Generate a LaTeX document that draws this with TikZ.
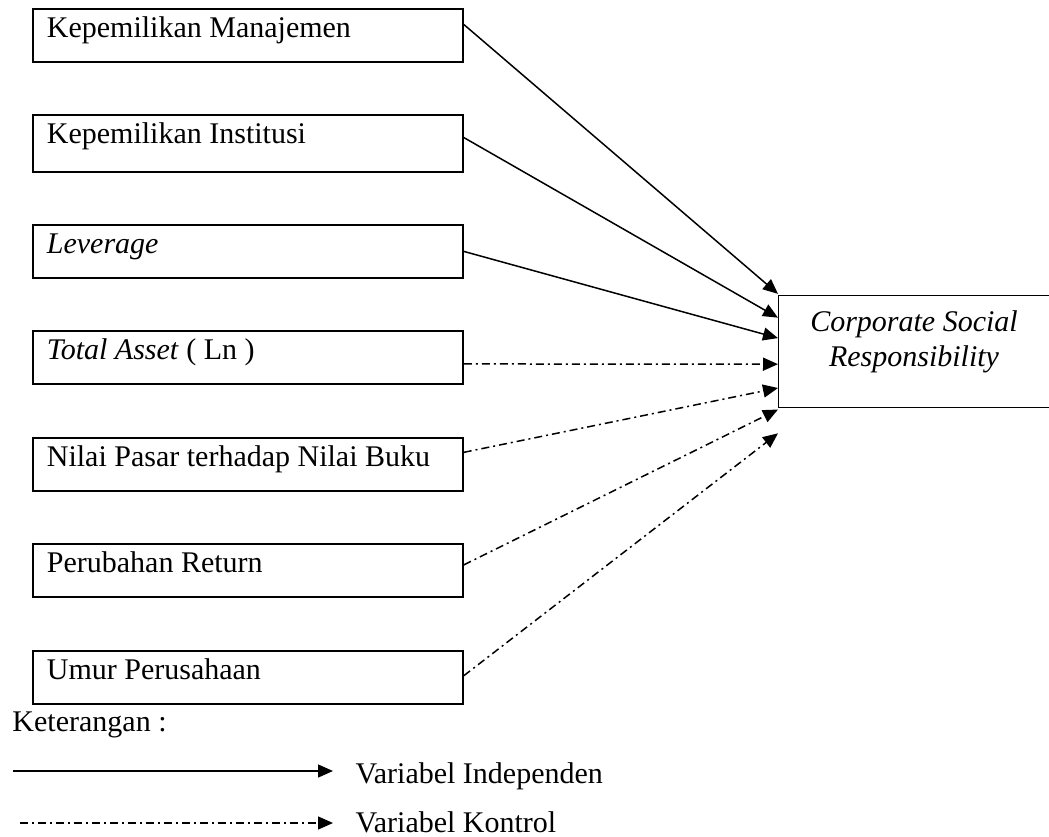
\documentclass[tikz,border=0pt]{standalone}
\usepackage{fontspec}
\setmainfont{Liberation Serif}
\usetikzlibrary{arrows.meta,calc}
\newcommand\boxtxt[1]{\makebox[160.8pt][l]{#1}}
\begin{document}
\begin{tikzpicture}[x=0.4pt,y=-0.4pt,
  box/.style={draw, line width=0.7pt, rectangle, anchor=north west, inner xsep=5.6pt, inner ysep=0pt, text height=11.6pt, text depth=9.6pt, font=\fontsize{12}{14}\selectfont},
  csrbox/.style={draw, line width=0.55pt, rectangle, anchor=north west, minimum width=110pt, minimum height=44.8pt, inner sep=0pt},
  indep/.style={line width=0.6pt, -{Triangle[length=6pt,width=5.2pt]}},
  ctrl/.style={indep, dash pattern=on 3.2pt off 1.6pt on 0.8pt off 1.6pt},
  lbl/.style={anchor=base west, inner sep=0pt, font=\fontsize{12}{14}\selectfont}]
\useasboundingbox (0,0) rectangle (1049,836);

\node[box] (b1) at (32,8) {\boxtxt{Kepemilikan Manajemen}};
\node[box, text depth=11.2pt] (b2) at (32,114) {\boxtxt{Kepemilikan Institusi}};
\node[box] (b3) at (32,224) {\boxtxt{\textit{Leverage}}};
\node[box] (b4) at (32,330) {\boxtxt{\textit{Total Asset} ( Ln )}};
\node[box] (b5) at (32,437) {\boxtxt{Nilai Pasar terhadap Nilai Buku}};
\node[box] (b6) at (32,543) {\boxtxt{Perubahan Return}};
\node[box] (b7) at (32,650) {\boxtxt{Umur Perusahaan}};

\node[csrbox] (csr) at (778,295) {};
\node[align=center, inner sep=0pt, font=\fontsize{12}{14}\selectfont\itshape] (csrt) at (914,342) {Corporate Social\\Responsibility};

\draw[indep] ($(b1.north east)!0.30!(b1.south east)$) -- ($(csr.north west)!-0.01!(csr.south west)$);
\draw[indep] ($(b2.north east)!0.40!(b2.south east)$) -- ($(csr.north west)!0.20!(csr.south west)$);
\draw[indep] (b3.east) -- ($(csr.north west)!0.38!(csr.south west)$);
\draw[ctrl] ($(b4.north east)!0.62!(b4.south east)$) -- ($(csr.north west)!0.61!(csr.south west)$);
\draw[ctrl] ($(b5.north east)!0.28!(b5.south east)$) -- ($(csr.north west)!0.82!(csr.south west)$);
\draw[ctrl] ($(b6.north east)!0.40!(b6.south east)$) -- ($(csr.north west)!1.01!(csr.south west)$);
\draw[ctrl] ($(b7.north east)!0.47!(b7.south east)$) -- ($(csr.north west)!1.22!(csr.south west)$);

\node[lbl] (ket) at (12,731) {Keterangan :};
\node[lbl] (vi) at (355,783) {Variabel Independen};
\node[lbl] (vk) at (355,832) {Variabel Kontrol};
\coordinate (l1s) at (13,771);
\coordinate (l1e) at (333,771);
\coordinate (l2s) at (20,823);
\coordinate (l2e) at (333,823);
\draw[indep] (l1s) -- (l1e);
\draw[ctrl] (l2s) -- (l2e);
\end{tikzpicture}
\end{document}
